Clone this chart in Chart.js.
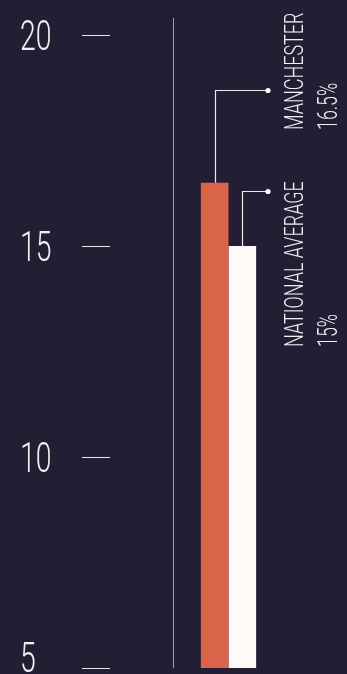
<!DOCTYPE html>
<html>
<head>
<meta charset="utf-8">
<script src="https://cdn.jsdelivr.net/npm/chart.js@4.4.1/dist/chart.umd.min.js"></script>
<style>
  html, body { margin: 0; padding: 0; background: #231e34; }
  canvas { display: block; }
</style>
</head>
<body>
<canvas id="chart" width="347" height="674"></canvas>
<script>
// data
const categories = ['Rate'];
const seriesNames = ['MANCHESTER', 'NATIONAL AVERAGE'];
const seriesValues = [16.5, 15];
const valueLabels = ['16.5%', '15%'];
const calloutLevels = [18.7, 16.3];   // height where each callout line turns right
const yTicks = [5, 10, 15, 20];

const BG = '#231e34';
const ORANGE = '#da644a';
const WHITE = '#fffaf7';
const TEXT = '#f1eff0';

// condensed thin text helper (the original uses a narrow display face)
const drawCondensed = (ctx, text, size, squeeze) => {
  ctx.save();
  ctx.scale(squeeze, 1);
  ctx.font = `300 ${size}px Roboto, "Liberation Sans Narrow", sans-serif`;
  ctx.fillText(text, 0, 0);
  ctx.restore();
}

const decor = {
  id: 'decor',
  afterDatasetsDraw(chart) {
    const ctx = chart.ctx;
    const area = chart.chartArea;
    const y = chart.scales.y;

    // thin divider line
    ctx.save();
    ctx.strokeStyle = '#a29fab';
    ctx.lineWidth = 1;
    ctx.beginPath();
    ctx.moveTo(area.left + 63.5, area.top - 17);
    ctx.lineTo(area.left + 63.5, area.bottom);
    ctx.stroke();
    ctx.restore();

    // y tick labels
    ctx.save();
    ctx.fillStyle = TEXT;
    ctx.textAlign = 'left';
    ctx.textBaseline = 'alphabetic';
    yTicks.forEach(v => {
      let py = y.getPixelForValue(v) + 15;
      if (py > chart.height - 2) py = chart.height - 2;
      ctx.save();
      ctx.translate(20, py);
      drawCondensed(ctx, String(v), 43, 0.66);
      ctx.restore();
    });
    ctx.restore();

    // callouts
    const textBottom = [130, 347];
    const endX = 268;
    seriesValues.forEach((val, i) => {
      const bar = chart.getDatasetMeta(i).data[0];
      const ly = y.getPixelForValue(calloutLevels[i]);
      const bx = Math.round(bar.x) + 0.5;
      ctx.save();
      ctx.strokeStyle = '#eeeaea';
      ctx.fillStyle = '#ffffff';
      ctx.lineWidth = 1.2;
      ctx.beginPath();
      ctx.moveTo(bx, bar.y);
      ctx.lineTo(bx, Math.round(ly) + 0.5);
      ctx.lineTo(endX, Math.round(ly) + 0.5);
      ctx.stroke();
      ctx.beginPath();
      ctx.arc(endX, Math.round(ly) + 0.5, 2.6, 0, Math.PI * 2);
      ctx.fill();

      ctx.fillStyle = TEXT;
      ctx.textAlign = 'left';
      ctx.textBaseline = 'alphabetic';
      ctx.save();
      ctx.translate(303, textBottom[i]);
      ctx.rotate(-Math.PI / 2);
      drawCondensed(ctx, seriesNames[i], 25, 0.72);
      ctx.restore();
      ctx.save();
      ctx.translate(337, textBottom[i]);
      ctx.rotate(-Math.PI / 2);
      drawCondensed(ctx, valueLabels[i], 27, 0.66);
      ctx.restore();
      ctx.restore();
    });
  }
}

new Chart(document.getElementById('chart'), {
  type: 'bar',
  data: {
    labels: categories,
    datasets: [
      { label: seriesNames[0], data: [seriesValues[0]], backgroundColor: ORANGE },
      { label: seriesNames[1], data: [seriesValues[1]], backgroundColor: WHITE }
    ]
  },
  options: {
    responsive: false,
    animation: false,
    datasets: { bar: { barPercentage: 1, categoryPercentage: 56 / 240 } },
    layout: { padding: { left: 82, right: -3, top: 35, bottom: 6 } },
    plugins: { legend: { display: false }, tooltip: { enabled: false } },
    scales: {
      x: { display: false },
      y: {
        min: 5,
        max: 20,
        afterBuildTicks: axis => { axis.ticks = yTicks.map(v => ({ value: v })) },
        ticks: { display: false },
        border: { display: false },
        grid: {
          drawOnChartArea: false,
          drawTicks: true,
          tickLength: 28,
          tickColor: '#e9e7ea',
          tickWidth: 1
        }
      }
    }
  },
  plugins: [decor, {
    id: 'bg',
    beforeDraw(chart) {
      const ctx = chart.ctx;
      ctx.save();
      ctx.fillStyle = BG;
      ctx.fillRect(0, 0, chart.width, chart.height);
      ctx.restore();
    }
  }]
});
</script>
</body>
</html>
